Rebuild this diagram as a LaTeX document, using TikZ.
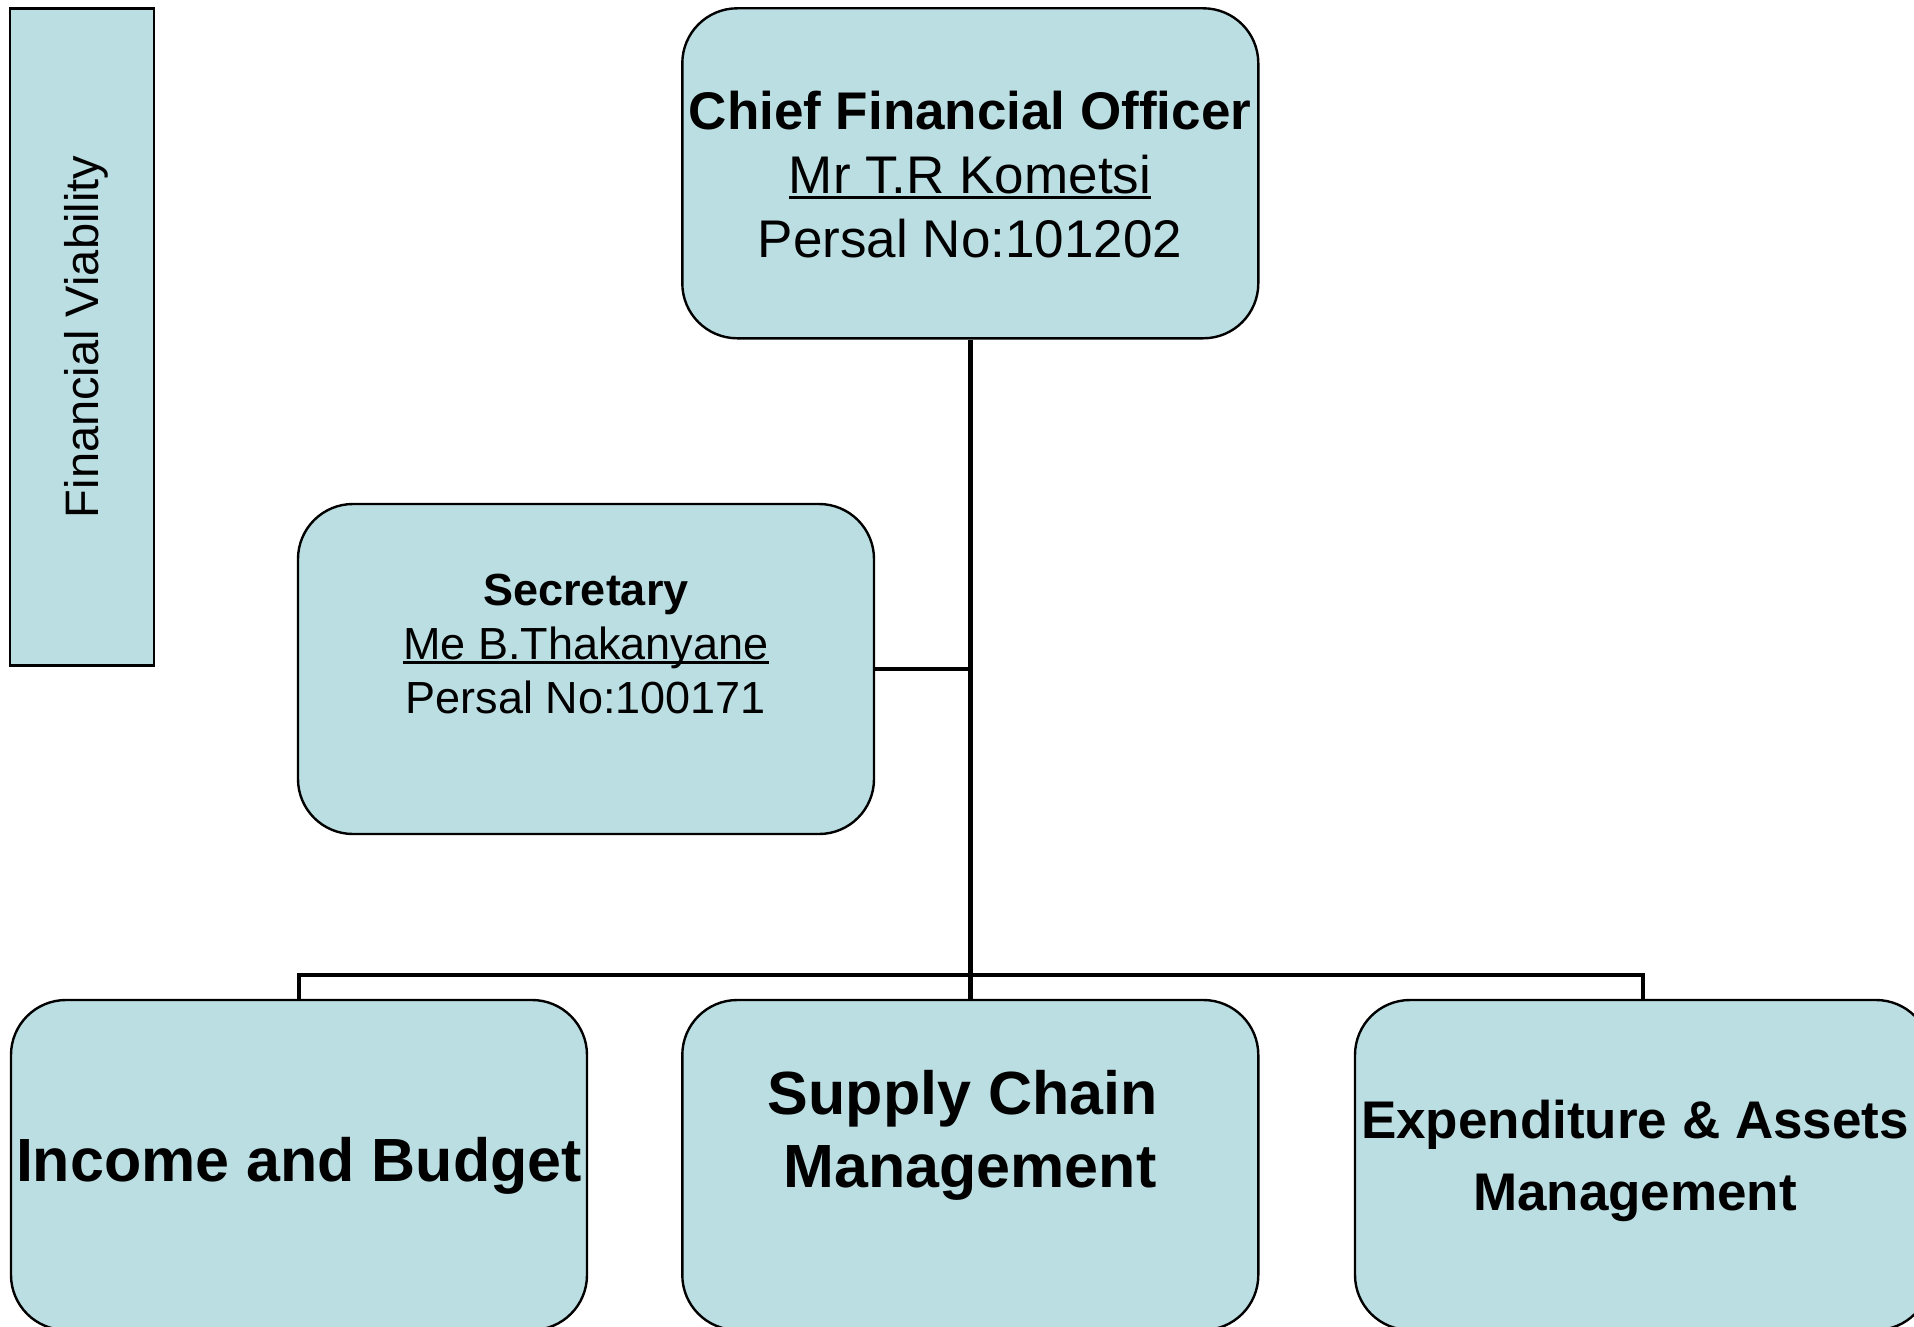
\documentclass[tikz,border=0pt]{standalone}
\usepackage{fontspec}
\setmainfont{Liberation Sans}
\definecolor{boxfill}{RGB}{187,222,227}
\newcommand{\undl}[1]{\setbox0=\hbox{#1}\leavevmode\rlap{\rule[-0.1em]{\wd0}{0.057em}}\box0}
\tikzset{
  orgbox/.style={draw=black, line width=2.4pt, fill=boxfill, rounded corners=55pt,
    minimum width=576pt, minimum height=330pt, inner sep=0pt},
  sidebox/.style={draw=black, line width=2.2pt, fill=boxfill,
    minimum width=144pt, minimum height=657pt, inner sep=0pt},
  txt/.style={align=center, inner sep=0pt},
  conn/.style={line width=4.5pt}
}
\begin{document}
\begin{tikzpicture}[x=1pt,y=-1pt]
\useasboundingbox (0,0) rectangle (1914,1327);
\clip (0,0) rectangle (1914,1327);
% boxes
\node[sidebox] (fv) at (81.8,337) {};
\node[orgbox] (cfo) at (970.3,173.3) {};
\node[orgbox] (sec) at (586,669) {};
\node[orgbox] (inc) at (299,1165) {};
\node[orgbox] (scm) at (970.3,1165) {};
\node[orgbox] (exp) at (1643,1165) {};
% texts
\node[txt, rotate=90, font=\fontsize{47}{56}\selectfont] (fvt) at (86,337) {Financial Viability};
\node[txt, font=\fontsize{53}{64}\selectfont] (cfot) at (970,175) {\textbf{Chief Financial Officer}\\ \undl{Mr T.R Kometsi}\hspace*{0.18em}\\ Persal No:101202};
\node[txt, font=\fontsize{45}{54}\selectfont] (sect) at (586,644) {\textbf{Secretary}\\ \undl{Me B.Thakanyane}\\ Persal No:100171};
\node[txt, font=\fontsize{61}{73}\selectfont\bfseries] (inct) at (299,1166) {Income and Budget};
\node[txt, font=\fontsize{61}{73}\selectfont\bfseries] (scmt) at (970,1135) {Supply Chain\hspace*{0.24em}\\ Management};
\node[txt, font=\fontsize{53}{72}\selectfont\bfseries] (expt) at (1635,1161) {Expenditure \& Assets\\ Management};
% connectors
\coordinate (bus) at (970.3,975);
\draw[conn] (cfo.south) -- (scm.north);
\draw[conn] (sec.east) -- (sec.east -| cfo.south);
\draw[conn] (inc.north) |- (bus) -| (exp.north);
\end{tikzpicture}
\end{document}
